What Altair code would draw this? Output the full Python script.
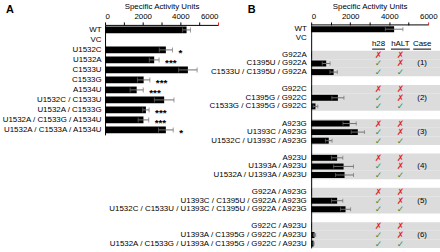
import altair as alt
import pandas as pd

# ---------------- Panel A data ----------------
A_labels = ["WT", "VC", "U1532C", "U1532A", "C1533U", "C1533G", "A1534U",
            "U1532C / C1533U", "U1532A / C1533G", "U1532A / C1533G / A1534U",
            "U1532A / C1533A / A1534U"]
A_values = [4330, 0, 3230, 2610, 4400, 2050, 1680, 3140, 2170, 2040, 3230]
A_errors = [210, 0, 350, 260, 490, 330, 350, 520, 170, 280, 390]
A_signif = ["", "", "*", "***", "", "***", "***", "", "***", "***", "*"]

# ---------------- Panel B data ----------------
B_top_labels = ["WT", "VC"]
B_top_values = [4250, 0]
B_top_errors = [450, 0]

B_groups = [
    ["G922A", "C1395U / G922A", "C1533U / C1395U / G922A"],
    ["G922C", "C1395G / G922C", "C1533G / C1395G / G922C"],
    ["A923G", "U1393C / A923G", "U1532C / U1393C / A923G"],
    ["A923U", "U1393A / A923U", "U1532A / U1393A / A923U"],
    ["G922A / A923G", "U1393C / C1395U / G922A / A923G",
     "U1532C / C1533U / U1393C / C1395U / G922A / A923G"],
    ["G922C / A923U", "U1393A / C1395G / G922C / A923U",
     "U1532A / C1533G / U1393A / C1395G / G922C / A923U"],
]
B_values = [[20, 770, 1150], [20, 1370, 220], [1970, 2390, 900],
            [1330, 1660, 1710], [20, 1330, 1760], [20, 170, 120]]
B_errors = [[0, 200, 190], [0, 310, 120], [340, 340, 170],
            [290, 510, 460], [0, 290, 260], [0, 60, 30]]
h28_marks = ["✗", "✓", "✓"]
hALT_marks = ["✗", "✗", "✓"]
case_labels = ["(1)", "(2)", "(3)", "(4)", "(5)", "(6)"]
headers = ["h28", "hALT", "Case"]

x_ticks = [0, 1000, 2000, 3000, 4000, 5000, 6000]
x_title = "Specific Activity Units"

FONT = "Liberation Sans"
RED = "#e0262c"
GREEN = "#2b8a3e"
ERR = "#707070"
UNDERLINE_W = {"h28": 13, "hALT": 19, "Case": 18}

# ---------------- tables ----------------
dfA = pd.DataFrame({"row": A_labels, "value": A_values, "err": A_errors, "sig": A_signif})
dfA["lo"] = dfA["value"] - dfA["err"]
dfA["hi"] = dfA["value"] + dfA["err"]

rowsB = B_top_labels + ["_hdr"]
b_rows, b_vals, b_errs = list(B_top_labels), list(B_top_values), list(B_top_errors)
band_rows, ann, cases = [], [], []
for gi, (g, vals, errs) in enumerate(zip(B_groups, B_values, B_errors)):
    if gi > 0:
        rowsB.append("_gap%d" % gi)
    rowsB += g
    b_rows += g
    b_vals += vals
    b_errs += errs
    band_rows += g
    for ri, r in enumerate(g):
        ann.append({"row": r, "col": "h28", "t": h28_marks[ri],
                    "c": RED if h28_marks[ri] == "✗" else GREEN})
        ann.append({"row": r, "col": "hALT", "t": hALT_marks[ri],
                    "c": RED if hALT_marks[ri] == "✗" else GREEN})
    cases.append({"row": g[1], "col": "Case", "t": case_labels[gi]})

dfB = pd.DataFrame({"row": b_rows, "value": b_vals, "err": b_errs})
dfB["lo"] = dfB["value"] - dfB["err"]
dfB["hi"] = dfB["value"] + dfB["err"]
dfBand = pd.DataFrame({"row": band_rows})
dfAnn = pd.DataFrame(ann)
dfCase = pd.DataFrame(cases)
dfHdr = pd.DataFrame({"row": ["_hdr"] * len(headers), "col": headers, "t": headers})
dfAxis = pd.DataFrame({"x0": [x_ticks[0]], "x1": [x_ticks[-1]]})

# ---------------- shared styles ----------------
def x_axis(domain=True, title_x=None):
    kw = dict(orient="top", values=x_ticks, format="d",
              labelExpr="datum.value % 2000 === 0 ? datum.label : ''",
              labelOverlap=False, title=x_title, tickSize=3, labelPadding=1,
              titlePadding=3, titleFontWeight="normal", domain=domain,
              tickColor={"condition": {"test": "datum.value === 6000", "value": RED},
                         "value": "black"})
    if title_x is not None:
        kw["titleX"] = title_x
    return alt.Axis(**kw)

# ---------------- Panel A ----------------
xA = alt.Scale(domain=[0, 6000], nice=False)
yA = alt.Scale(domain=A_labels, paddingInner=0.33, paddingOuter=0.165)
yaxA = alt.Axis(title=None, ticks=False, labelPadding=4, labelLimit=400)
YA = alt.Y("row:N", scale=yA, axis=yaxA, sort=A_labels)

baseA = alt.Chart(dfA)
barsA = baseA.mark_bar(color="black").encode(
    x=alt.X("value:Q", scale=xA, axis=x_axis()), y=YA)
errA = baseA.transform_filter("datum.err > 0").mark_rule(color=ERR, strokeWidth=1).encode(
    x=alt.X("lo:Q", scale=xA, axis=x_axis()), x2="hi:Q", y=YA)
capLoA = baseA.transform_filter("datum.err > 0").mark_tick(color=ERR, thickness=1, size=5).encode(
    x=alt.X("lo:Q", scale=xA, axis=x_axis()), y=YA)
capHiA = baseA.transform_filter("datum.err > 0").mark_tick(color=ERR, thickness=1, size=5).encode(
    x=alt.X("hi:Q", scale=xA, axis=x_axis()), y=YA)
starsA = baseA.transform_filter("datum.sig != ''").mark_text(
    align="left", baseline="middle", dx=6, dy=3, font=FONT, fontSize=10,
    fontWeight="bold", color="black").encode(
    x=alt.X("hi:Q", scale=xA, axis=x_axis()), y=YA, text="sig:N")
letterA = alt.Chart(pd.DataFrame({"t": ["A"]})).mark_text(
    font=FONT, fontSize=11, fontWeight="bold", align="left", baseline="middle").encode(
    text="t:N", x=alt.value(-100), y=alt.value(-15))

panelA = alt.layer(barsA, errA, capLoA, capHiA, starsA, letterA).properties(width=114, height=111)

# ---------------- Panel B ----------------
xB = alt.Scale(domain=[0, 6600], nice=False)
yB = alt.Scale(domain=rowsB, paddingInner=0, paddingOuter=0)
yaxB = alt.Axis(title=None, ticks=False, labelPadding=5, labelLimit=400, zindex=1,
                labelExpr="indexof(datum.label, '_') === 0 ? '' : datum.label")
YB = alt.Y("row:N", scale=yB, axis=yaxB, sort=rowsB)
xaxB = x_axis(domain=False, title_x=59)

bands = alt.Chart(dfBand).mark_rect(color="#dcdcdc").encode(y=YB)
baseB = alt.Chart(dfB)
barsB = baseB.mark_bar(color="black", size=6).encode(
    x=alt.X("value:Q", scale=xB, axis=xaxB), y=YB)
errB = baseB.transform_filter("datum.err > 0").mark_rule(color=ERR, strokeWidth=1).encode(
    x=alt.X("lo:Q", scale=xB, axis=xaxB), x2="hi:Q", y=YB)
capLoB = baseB.transform_filter("datum.err > 0").mark_tick(color=ERR, thickness=1, size=4).encode(
    x=alt.X("lo:Q", scale=xB, axis=xaxB), y=YB)
capHiB = baseB.transform_filter("datum.err > 0").mark_tick(color=ERR, thickness=1, size=4).encode(
    x=alt.X("hi:Q", scale=xB, axis=xaxB), y=YB)
axisLineB = alt.Chart(dfAxis).mark_rule(color="black", strokeWidth=1).encode(
    x=alt.X("x0:Q", scale=xB, axis=xaxB), x2="x1:Q", y=alt.value(0))

innerB = alt.layer(bands, barsB, errB, capLoB, capHiB, axisLineB)

colScale = alt.Scale(domain=headers, range=[68, 112], padding=0)
XC = alt.X("col:N", scale=colScale, axis=None)
annB = alt.Chart(dfAnn).mark_text(font="DejaVu Sans", fontSize=9, baseline="middle").encode(
    x=XC, y=YB, text="t:N", color=alt.Color("c:N", scale=None))
caseB = alt.Chart(dfCase).mark_text(font=FONT, fontSize=8, baseline="middle").encode(
    x=XC, y=YB, text="t:N")
hdrB = alt.Chart(dfHdr).mark_text(font=FONT, fontSize=8, baseline="middle", dy=-2).encode(
    x=XC, y=YB, text="t:N")
underlines = [
    alt.Chart(dfHdr).transform_filter(alt.datum.col == h).mark_point(
        shape="M-1,0L1,0", size=UNDERLINE_W[h] ** 2, filled=False, stroke="black",
        strokeWidth=1, opacity=1, yOffset=2.8).encode(x=XC, y=YB)
    for h in headers
]
letterB = alt.Chart(pd.DataFrame({"t": ["B"]})).mark_text(
    font=FONT, fontSize=11, fontWeight="bold", align="left", baseline="middle").encode(
    text="t:N", x=alt.value(-64), y=alt.value(-15))

panelB = alt.layer(innerB, annB, caseB, hdrB, *underlines, letterB).resolve_scale(
    x="independent").properties(width=130, height=225)

chart = alt.hconcat(panelA, panelB, spacing=94, bounds="flush").properties(
    padding={"left": 1, "top": 1, "right": 0, "bottom": 0}
).configure(font=FONT).configure_view(stroke=None).configure_axis(
    labelFont=FONT, titleFont=FONT, labelFontSize=8, titleFontSize=8,
    labelColor="black", titleColor="black", domainColor="black", domainWidth=1,
    grid=False
)

chart.save("out.html", embed_options={"renderer": "svg", "actions": False})
